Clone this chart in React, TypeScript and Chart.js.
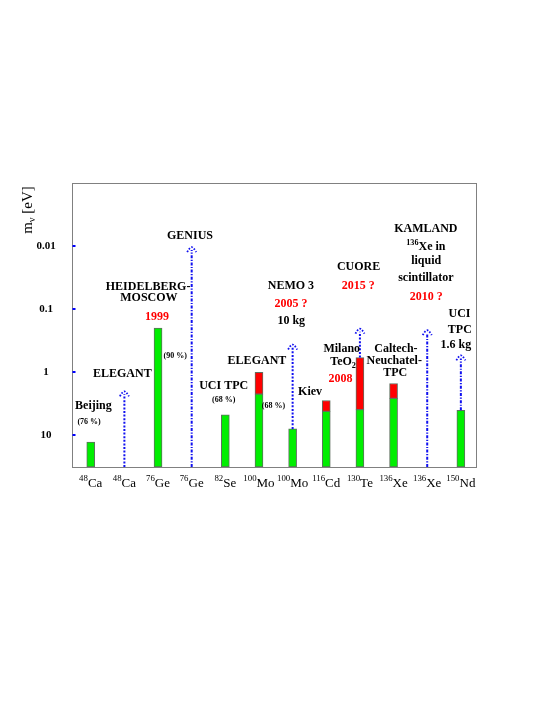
import React, { useEffect, useRef } from 'react';
import { Chart, registerables } from 'chart.js';
Chart.register(...registerables);

// ---------- data ----------
const isotopeMass = ['48', '48', '76', '76', '82', '100', '100', '116', '130', '136', '136', '150'];
const isotopeSymbol = ['Ca', 'Ca', 'Ge', 'Ge', 'Se', 'Mo', 'Mo', 'Cd', 'Te', 'Xe', 'Xe', 'Nd'];
// present limits (green) and extra range (red), in eV
const greenTop = [13, null, 0.2, null, 4.8, 2.24, 8.0, 4.22, 3.96, 2.62, null, 4.06];
const redTop = [null, null, null, null, null, 1.01, null, 2.83, 0.59, 1.52, null, null];
// projected sensitivities (blue dotted arrows)
const arrowTop = [null, 2.1, null, 0.0108, null, null, 0.38, null, 0.213, null, 0.225, 0.565];
const yTicks = [0.01, 0.1, 1, 10];
const yTickLabels = ['0.01', '0.1', '1', '10'];
const Y_MIN = 0.001;
const Y_MAX = 32.2;

// annotations: text, x (category index), e (log10 of value at baseline), color, size
const annotations = [
  { text: 'Beijing', x: 0.08, e: 0.583, color: '#000', size: 12 },
  { text: '(76 %)', x: -0.05, e: 0.821, color: '#000', size: 8 },
  { text: 'ELEGANT', x: 0.94, e: 0.075, color: '#000', size: 12 },
  { text: 'HEIDELBERG-', x: 1.705, e: -1.306, color: '#000', size: 12 },
  { text: 'MOSCOW', x: 1.73, e: -1.121, color: '#000', size: 12 },
  { text: '1999', x: 1.97, e: -0.83, color: '#ff0000', size: 12 },
  { text: '(90 %)', x: 2.51, e: -0.222, color: '#000', size: 8 },
  { text: 'GENIUS', x: 2.95, e: -2.116, color: '#000', size: 12 },
  { text: 'UCI TPC', x: 3.95, e: 0.27, color: '#000', size: 12 },
  { text: '(68 %)', x: 3.95, e: 0.476, color: '#000', size: 8 },
  { text: 'ELEGANT', x: 4.94, e: -0.132, color: '#000', size: 12 },
  { text: '(68 %)', x: 5.43, e: 0.571, color: '#000', size: 8 },
  { text: 'NEMO 3', x: 5.95, e: -1.317, color: '#000', size: 12 },
  { text: '2005 ?', x: 5.95, e: -1.032, color: '#ff0000', size: 12 },
  { text: '10 kg', x: 5.96, e: -0.759, color: '#000', size: 12 },
  { text: 'Kiev', x: 6.52, e: 0.371, color: '#000', size: 12 },
  { text: 'Milano', x: 7.46, e: -0.317, color: '#000', size: 12 },
  { text: 'TeO_{2}', x: 7.5, e: -0.116, color: '#000', size: 12 },
  { text: '2008', x: 7.42, e: 0.165, color: '#ff0000', size: 12 },
  { text: 'CUORE', x: 7.96, e: -1.624, color: '#000', size: 12 },
  { text: '2015 ?', x: 7.95, e: -1.322, color: '#ff0000', size: 12 },
  { text: 'Caltech-', x: 9.07, e: -0.317, color: '#000', size: 12 },
  { text: 'Neuchatel-', x: 9.02, e: -0.132, color: '#000', size: 12 },
  { text: 'TPC', x: 9.05, e: 0.063, color: '#000', size: 12 },
  { text: 'KAMLAND', x: 9.96, e: -2.222, color: '#000', size: 12 },
  { text: '^{136}Xe in', x: 9.96, e: -1.93, color: '#000', size: 12 },
  { text: 'liquid', x: 9.97, e: -1.714, color: '#000', size: 12 },
  { text: 'scintillator', x: 9.96, e: -1.449, color: '#000', size: 12 },
  { text: '2010 ?', x: 9.97, e: -1.137, color: '#ff0000', size: 12 },
  { text: 'UCI', x: 10.96, e: -0.873, color: '#000', size: 12 },
  { text: 'TPC', x: 10.97, e: -0.619, color: '#000', size: 12 },
  { text: '1.6 kg', x: 10.85, e: -0.381, color: '#000', size: 12 },
];

const SERIF = '"Liberation Serif", "Times New Roman", serif';
const dashDotIdx = new Set([3, 10, 11]);

type Seg = { t: string; k: 'n' | 'sup' | 'sub' };
function parseRich(s: string): Seg[] {
  const out: Seg[] = [];
  const re = /\^\{([^}]*)\}|_\{([^}]*)\}|([^^_]+)/g;
  let m: RegExpExecArray | null;
  while ((m = re.exec(s))) {
    if (m[1] !== undefined) out.push({ t: m[1], k: 'sup' });
    else if (m[2] !== undefined) out.push({ t: m[2], k: 'sub' });
    else out.push({ t: m[3], k: 'n' });
  }
  return out;
}

function drawRich(
  ctx: CanvasRenderingContext2D, text: string, cx: number, y: number,
  size: number, bold: boolean, color: string, small = 0.68
) {
  const segs = parseRich(text);
  const f = (sz: number) => `${bold ? 'bold ' : ''}${sz}px ${SERIF}`;
  const ss = Math.round(size * small * 10) / 10;
  let w = 0;
  const widths: number[] = [];
  for (const s of segs) {
    ctx.font = s.k === 'n' ? f(size) : f(ss);
    const ww = ctx.measureText(s.t).width;
    widths.push(ww);
    w += ww;
  }
  let x = cx - w / 2;
  ctx.fillStyle = color;
  ctx.textAlign = 'left';
  ctx.textBaseline = 'alphabetic';
  segs.forEach((s, i) => {
    ctx.font = s.k === 'n' ? f(size) : f(ss);
    const dy = s.k === 'sup' ? -size * 0.45 : s.k === 'sub' ? size * 0.25 : 0;
    ctx.fillText(s.t, x, y + dy);
    x += widths[i];
  });
}

const overlay = {
  id: 'overlay',
  afterDatasetsDraw(chart: any) {
    const ctx: CanvasRenderingContext2D = chart.ctx;
    const { left, right, top, bottom } = chart.chartArea;
    const xs = chart.scales.x;
    const ys = chart.scales.y;
    ctx.save();

    // frame
    ctx.strokeStyle = '#808080';
    ctx.lineWidth = 1;
    ctx.setLineDash([]);
    ctx.strokeRect(Math.round(left) + 0.5, Math.round(top) + 0.5,
      Math.round(right - left), Math.round(bottom - top));

    // y ticks + labels
    yTicks.forEach((v, i) => {
      const py = ys.getPixelForValue(v);
      ctx.fillStyle = '#0000ff';
      ctx.fillRect(left + 0.5, py - 1, 3, 2);
      ctx.fillStyle = '#000';
      ctx.font = `bold 11px ${SERIF}`;
      ctx.textAlign = 'center';
      ctx.textBaseline = 'middle';
      ctx.fillText(yTickLabels[i], 46, py + 0.5);
    });

    // y title
    ctx.save();
    ctx.translate(31.5, 210);
    ctx.rotate(-Math.PI / 2);
    drawRich(ctx, 'm_{ν} [eV]', 0, 0, 15, false, '#000', 0.7);
    ctx.restore();

    // x labels
    isotopeMass.forEach((m, i) => {
      const px = xs.getPixelForValue(i);
      drawRich(ctx, `^{${m}}${isotopeSymbol[i]}`, px, 486.5, 13, false, '#000', 0.68);
    });

    // arrows
    ctx.strokeStyle = '#1010f0';
    arrowTop.forEach((v, i) => {
      if (v == null) return;
      const px = xs.getPixelForValue(i);
      const startVal = redTop[i] ?? greenTop[i] ?? Y_MAX;
      const y0 = ys.getPixelForValue(startVal);
      const y1 = ys.getPixelForValue(v);
      ctx.lineWidth = 2;
      ctx.setLineDash(dashDotIdx.has(i) ? [3, 1.5, 1.2, 1.5] : [2, 1.6]);
      ctx.beginPath();
      ctx.moveTo(px, y0);
      ctx.lineTo(px, y1 + 2);
      ctx.stroke();
      // arrow head
      ctx.setLineDash([1.6, 1.6]);
      ctx.lineWidth = 1.8;
      ctx.beginPath();
      ctx.moveTo(px - 4.5, y1 + 4);
      ctx.quadraticCurveTo(px - 1, y1 - 2.5, px + 1, y1 - 0.5);
      ctx.quadraticCurveTo(px + 3, y1 + 1, px + 4.5, y1 + 4);
      ctx.stroke();
    });
    ctx.setLineDash([]);

    // annotations
    annotations.forEach((a) => {
      const px = xs.getPixelForValue(a.x);
      const py = ys.getPixelForValue(Math.pow(10, a.e));
      drawRich(ctx, a.text, px, py, a.size, true, a.color, 0.68);
    });

    ctx.restore();
  },
};

export default function App() {
  const ref = useRef<HTMLCanvasElement | null>(null);
  useEffect(() => {
    if (!ref.current) return;
    const greenData = greenTop
      .map((v, i) => (v == null ? null : { x: i, y: [Y_MAX, v] }))
      .filter((d) => d !== null);
    const redData = redTop
      .map((v, i) => (v == null ? null : { x: i, y: [greenTop[i] as number, v] }))
      .filter((d) => d !== null);
    const common = {
      borderColor: '#5f6f5f',
      borderWidth: 1,
      borderSkipped: false,
      barThickness: 8,
      grouped: false,
    };
    const chart = new Chart(ref.current, {
      type: 'bar',
      data: {
        datasets: [
          { label: 'present', data: greenData as any, backgroundColor: '#00ee00', ...common } as any,
          { label: 'range', data: redData as any, backgroundColor: '#ff0000', ...common } as any,
        ],
      },
      options: {
        responsive: false,
        animation: false,
        devicePixelRatio: 1,
        layout: { padding: { left: 72, top: 183, right: 69, bottom: 238 } },
        plugins: { legend: { display: false }, tooltip: { enabled: false } },
        scales: {
          x: { type: 'linear', min: -0.557, max: 11.45, offset: false, display: false },
          y: { type: 'logarithmic', reverse: true, min: Y_MIN, max: Y_MAX, display: false },
        },
      },
      plugins: [overlay],
    });
    return () => chart.destroy();
  }, []);
  return (
    <div style={{ position: 'absolute', left: 0, top: 0, width: 545, height: 705, background: '#fff' }}>
      <canvas ref={ref} width={545} height={705} style={{ width: 545, height: 705 }} />
    </div>
  );
}
